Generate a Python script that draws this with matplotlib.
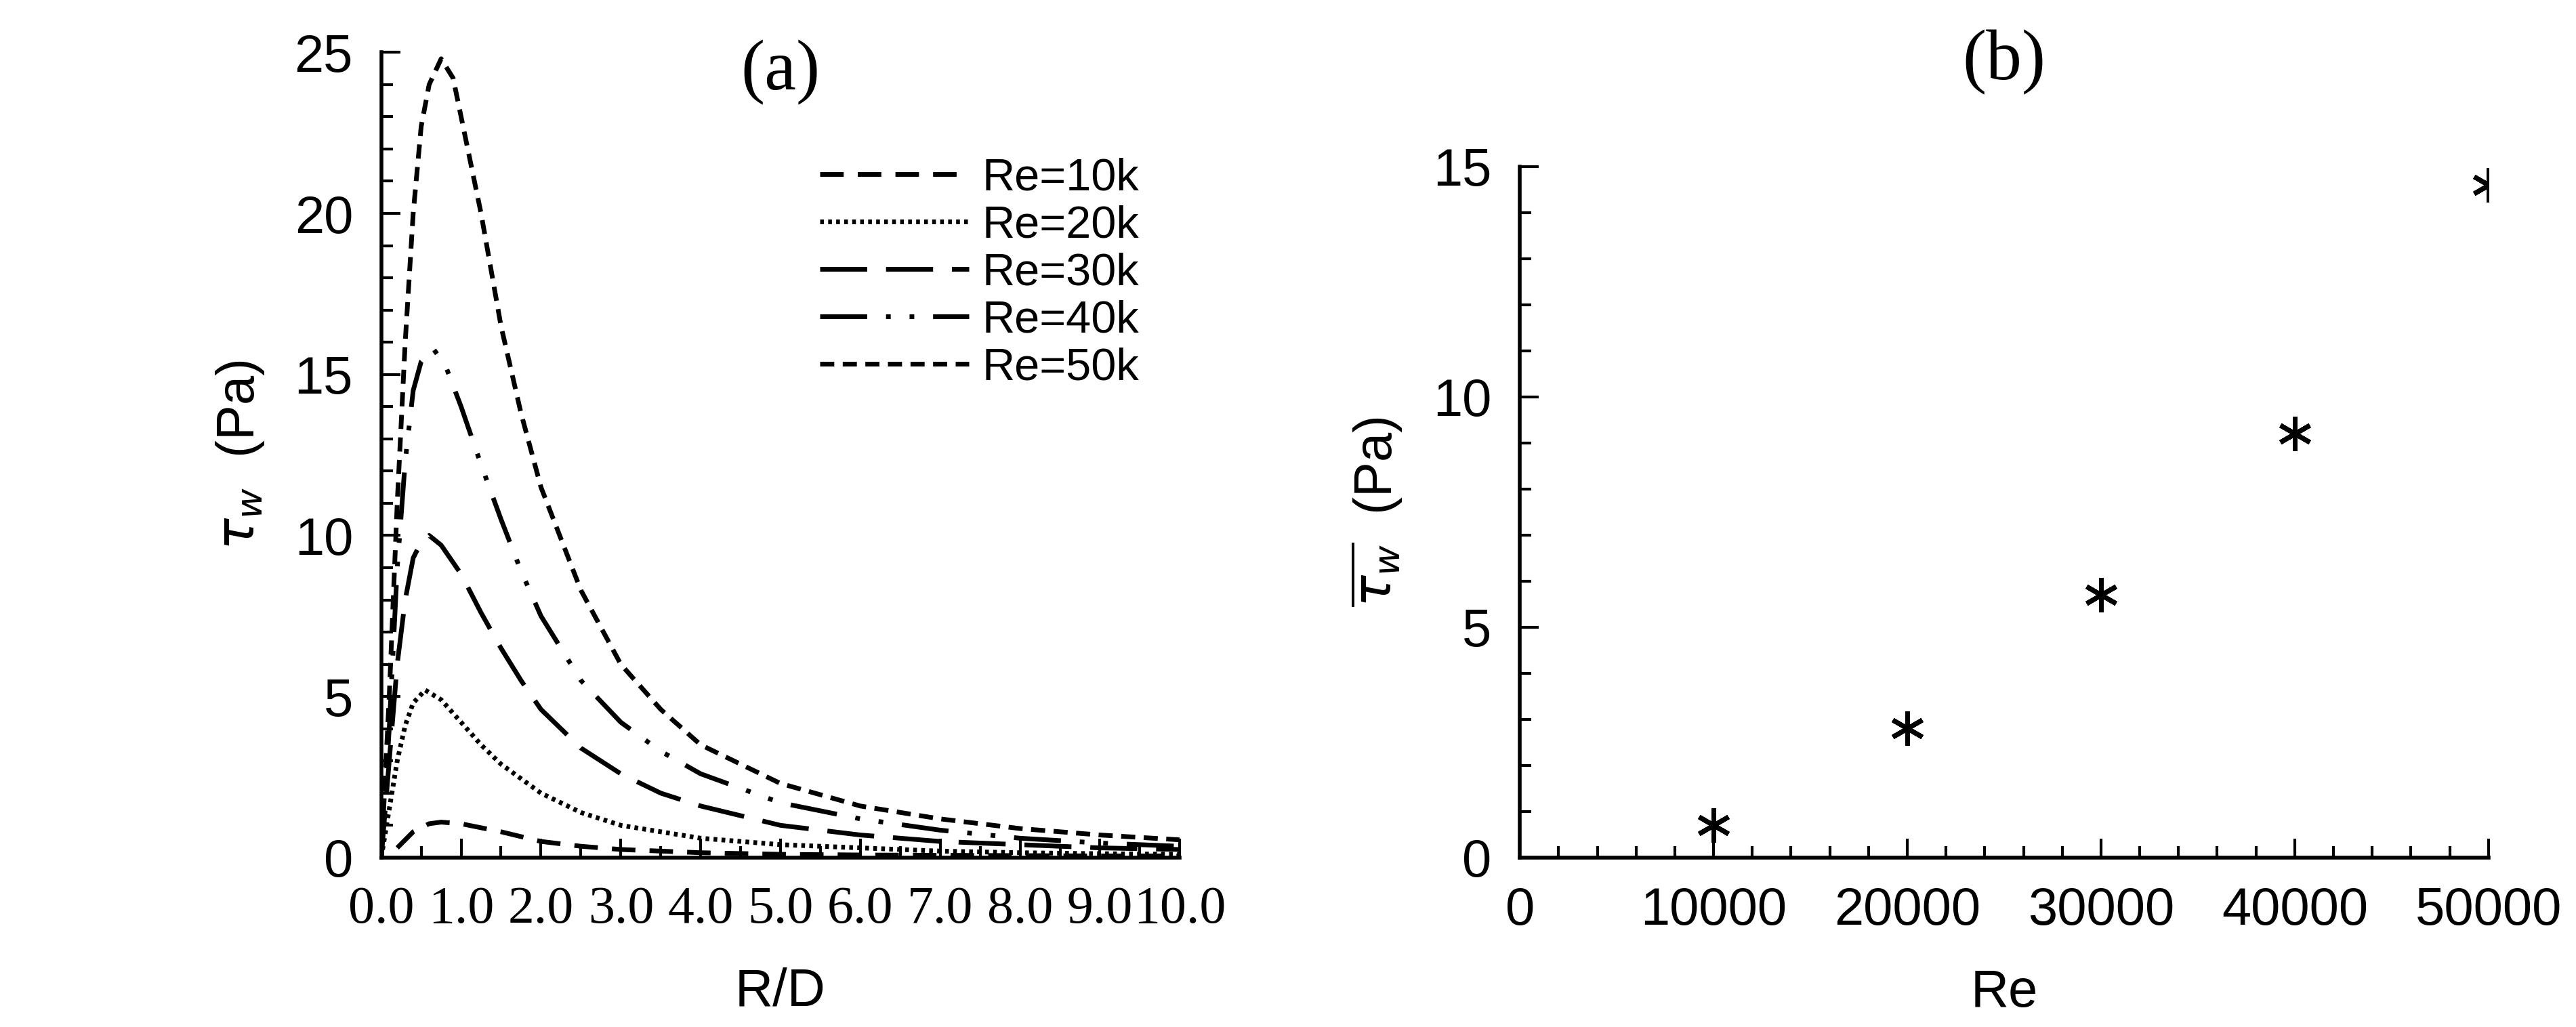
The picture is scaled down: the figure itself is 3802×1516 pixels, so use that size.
import matplotlib.pyplot as plt
from matplotlib.ticker import MultipleLocator

# panel (a): wall shear stress along R/D
rd_50 = [0, 0.1, 0.2, 0.3, 0.4, 0.5, 0.6, 0.75, 0.9, 1.0, 1.25, 1.5, 1.75, 2.0, 2.5, 3.0, 3.5, 4.0, 5.0, 6.0, 7.0, 8.0, 9.0, 10.0]
tau_50 = [0, 5, 11, 16, 20, 22.7, 24, 24.8, 24.2, 23, 20, 16.5, 13.8, 11.5, 8.3, 6.0, 4.6, 3.5, 2.3, 1.6, 1.2, 0.9, 0.7, 0.55]
rd_40 = [0, 0.1, 0.2, 0.3, 0.4, 0.5, 0.65, 0.8, 1.0, 1.25, 1.5, 1.75, 2.0, 2.5, 3.0, 3.5, 4.0, 5.0, 6.0, 7.0, 8.0, 9.0, 10.0]
tau_40 = [0, 4, 9, 12.3, 14.5, 15.4, 15.8, 15.3, 14, 12.2, 10.5, 8.9, 7.5, 5.5, 4.2, 3.3, 2.6, 1.7, 1.2, 0.85, 0.6, 0.45, 0.35]
rd_30 = [0, 0.1, 0.2, 0.3, 0.4, 0.5, 0.6, 0.75, 1.0, 1.25, 1.5, 1.75, 2.0, 2.5, 3.0, 3.5, 4.0, 5.0, 6.0, 7.0, 8.0, 9.0, 10.0]
tau_30 = [0, 3, 6, 8.0, 9.3, 9.8, 10, 9.7, 8.8, 7.6, 6.5, 5.5, 4.6, 3.4, 2.6, 2.0, 1.6, 1.0, 0.7, 0.5, 0.4, 0.3, 0.25]
rd_20 = [0, 0.1, 0.2, 0.3, 0.4, 0.55, 0.75, 1.0, 1.25, 1.5, 2.0, 2.5, 3.0, 4.0, 5.0, 6.0, 7.0, 8.0, 9.0, 10.0]
tau_20 = [0, 1.5, 3, 4.1, 4.8, 5.2, 4.9, 4.2, 3.5, 2.9, 2.0, 1.4, 1.0, 0.6, 0.4, 0.3, 0.2, 0.15, 0.12, 0.1]
rd_10 = [0.2, 0.4, 0.6, 0.75, 1.0, 1.5, 2.0, 2.5, 3.0, 4.0, 5.0, 6.0, 7.0, 8.0, 9.0, 10.0]
tau_10 = [0.3, 0.8, 1.05, 1.1, 1.05, 0.8, 0.5, 0.35, 0.25, 0.15, 0.1, 0.08, 0.07, 0.06, 0.05, 0.05]

# panel (b): mean wall shear stress vs Re
re_vals = [10000, 20000, 30000, 40000, 50000]
tau_mean = [0.7, 2.8, 5.7, 9.2, 14.6]

SANS = "Liberation Sans"
SERIF = "Liberation Serif"
FS = 56

fig = plt.figure(figsize=(38.02, 15.16), dpi=100)
ax1 = fig.add_axes([0.148, 0.165, 0.310, 0.784])
ax2 = fig.add_axes([0.590, 0.165, 0.376, 0.673])

lw = 5
ax1.plot(rd_10, tau_10, color="black", lw=lw, dashes=(5, 3), label="Re=10k")
ax1.plot(rd_20, tau_20, color="black", lw=lw, dashes=(0.8, 0.9), label="Re=20k")
ax1.plot(rd_30, tau_30, color="black", lw=lw, dashes=(10, 4), label="Re=30k")
ax1.plot(rd_40, tau_40, color="black", lw=lw, dashes=(10, 4, 1, 4, 1, 4), label="Re=40k")
ax1.plot(rd_50, tau_50, color="black", lw=lw, dashes=(3, 1.8), label="Re=50k")

ax1.set_xlim(0, 10)
ax1.set_ylim(0, 25)
ax1.xaxis.set_major_locator(MultipleLocator(1))
ax1.xaxis.set_minor_locator(MultipleLocator(0.5))
ax1.yaxis.set_major_locator(MultipleLocator(5))
ax1.yaxis.set_minor_locator(MultipleLocator(1))
ax1.set_xticklabels([f"{v:.1f}" for v in ax1.get_xticks()], fontfamily=SERIF, fontsize=FS + 4)
ax1.set_xlabel("R/D", fontfamily=SANS, fontsize=FS, labelpad=35)
ax1.set_ylabel(r"$\tau_w$  (Pa)", fontfamily=SANS, fontsize=FS, labelpad=30)
ax1.text(0.5, 0.975, "(a)", transform=ax1.transAxes, ha="center", va="center",
         fontfamily=SERIF, fontsize=76)
ax1.legend(loc="upper right", bbox_to_anchor=(1.0, 0.92), frameon=False,
           prop={"family": SANS, "size": 48}, handlelength=3.3, labelspacing=0.12,
           handletextpad=0.3)

ax2.plot(re_vals, tau_mean, linestyle="none", marker=(6, 2, 0), markersize=36,
         markeredgewidth=5, color="black")
ax2.set_xlim(0, 50000)
ax2.set_ylim(0, 15)
ax2.xaxis.set_major_locator(MultipleLocator(10000))
ax2.xaxis.set_minor_locator(MultipleLocator(2000))
ax2.yaxis.set_major_locator(MultipleLocator(5))
ax2.yaxis.set_minor_locator(MultipleLocator(1))
ax2.set_xlabel("Re", fontfamily=SANS, fontsize=FS, labelpad=35)
ax2.set_ylabel(r"$\overline{\tau_w}$  (Pa)", fontfamily=SANS, fontsize=FS, labelpad=30)
ax2.text(0.5, 1.15, "(b)", transform=ax2.transAxes, ha="center", va="center",
         fontfamily=SERIF, fontsize=76)

for ax in (ax1, ax2):
    for s in ("top", "right"):
        ax.spines[s].set_visible(False)
    for s in ("left", "bottom"):
        ax.spines[s].set_linewidth(4)
    ax.tick_params(which="both", direction="in", width=3, labelsize=FS, pad=30)
    ax.tick_params(which="major", length=20)
    ax.tick_params(which="minor", length=12)
    for lab in ax.get_yticklabels():
        lab.set_fontfamily(SANS)
    if ax is ax2:
        for lab in ax.get_xticklabels():
            lab.set_fontfamily(SANS)

fig.savefig("out.png", dpi=100)
